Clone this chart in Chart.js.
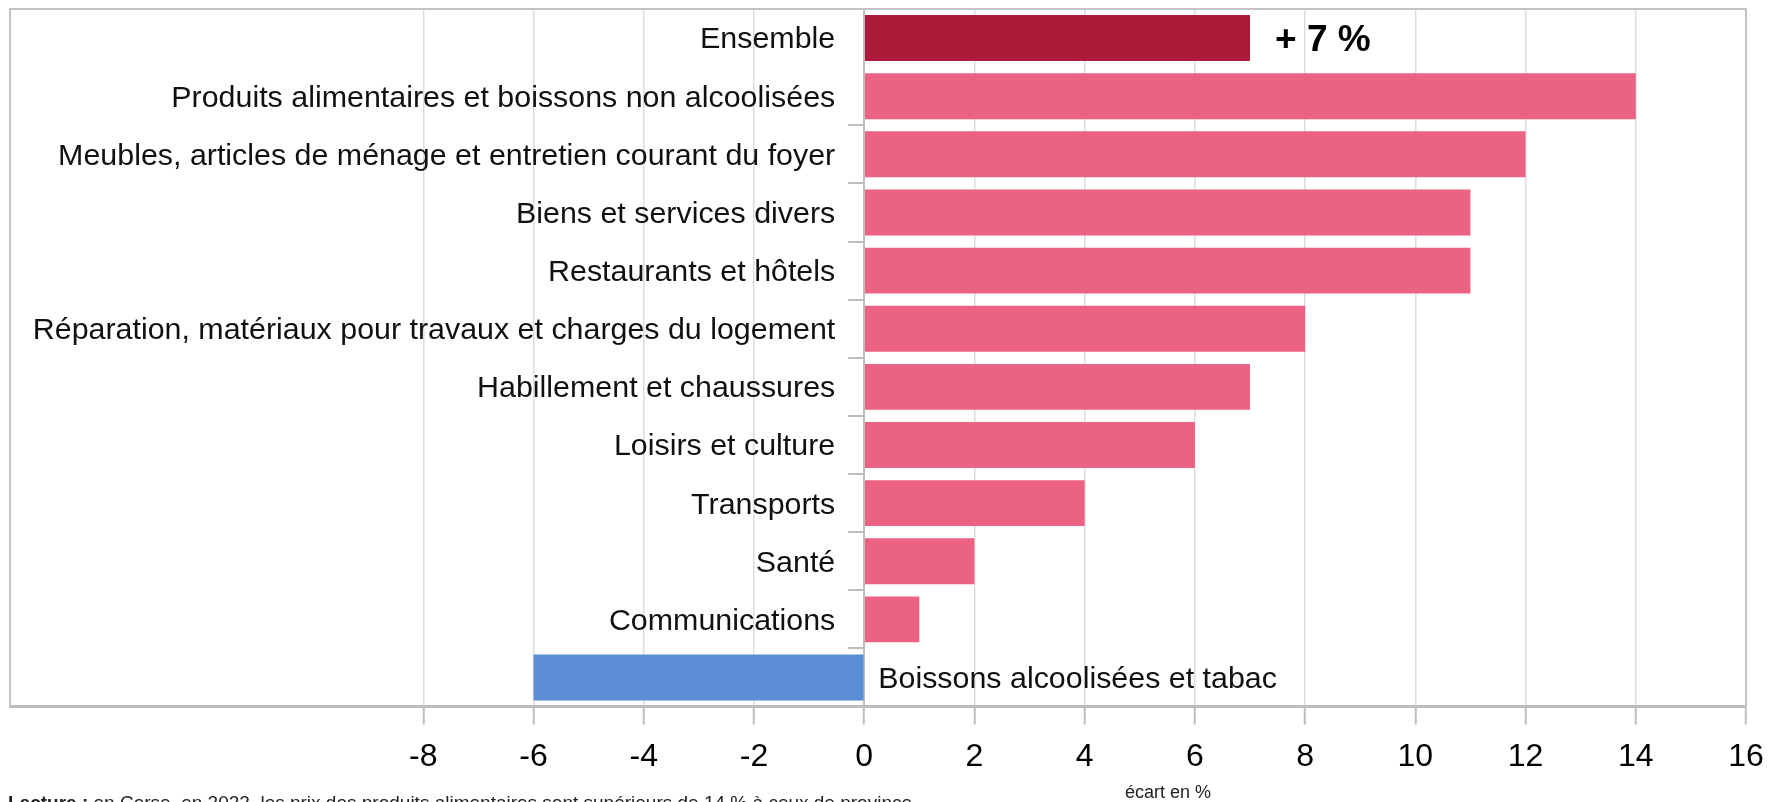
<!DOCTYPE html>
<html>
<head>
<meta charset="utf-8">
<script src="https://cdn.jsdelivr.net/npm/chart.js@4/dist/chart.umd.min.js"></script>
<style>
  html, body { margin: 0; padding: 0; background: #fff; }
  #wrap { width: 1768px; height: 802px; }
</style>
</head>
<body>
<div id="wrap"><canvas id="ecarts" width="1768" height="802"></canvas></div>
<script>
// data
const categories = [
  'Ensemble',
  'Produits alimentaires et boissons non alcoolisées',
  'Meubles, articles de ménage et entretien courant du foyer',
  'Biens et services divers',
  'Restaurants et hôtels',
  'Réparation, matériaux pour travaux et charges du logement',
  'Habillement et chaussures',
  'Loisirs et culture',
  'Transports',
  'Santé',
  'Communications',
  'Boissons alcoolisées et tabac'
];
const ecarts = [7, 14, 12, 11, 11, 8, 7, 6, 4, 2, 1, -6];
const xTicks = [-8, -6, -4, -2, 0, 2, 4, 6, 8, 10, 12, 14, 16];
const ensembleLabel = '+ 7 %';
const axisTitle = 'écart en %';
const noteBold = 'Lecture :';
const noteText = ' en Corse, en 2022, les prix des produits alimentaires sont supérieurs de 14 % à ceux de province.';

const FONT = '"Liberation Sans", Arial, sans-serif';

// colours: Ensemble dark red, positives pink, negatives blue
const barColors = ecarts.map((v, i) => i === 0 ? '#ad1a3a' : (v < 0 ? '#5b8ed6' : '#ec6283'));

//frame, category labels and notes
const labelsPlugin = {
  id: 'labels',
  beforeDatasetsDraw: (chart) => {
    const ctx = chart.ctx;
    const a = chart.chartArea;
    ctx.save();
    ctx.strokeStyle = '#c3c3c3';
    ctx.lineWidth = 2;
    ctx.beginPath();
    ctx.moveTo(a.left, a.bottom);
    ctx.lineTo(a.left, a.top);
    ctx.lineTo(a.right, a.top);
    ctx.lineTo(a.right, a.bottom);
    ctx.stroke();
    ctx.restore();
  },
  afterDatasetsDraw: (chart) => {
    const ctx = chart.ctx;
    const xs = chart.scales.x;
    const ys = chart.scales.y;
    const x0 = xs.getPixelForValue(0);
    ctx.save();
    ctx.fillStyle = '#111';
    ctx.textBaseline = 'middle';
    ctx.font = '30.4px ' + FONT;
    categories.forEach((c, i) => {
      const y = ys.getPixelForValue(i) + 2;
      if (ecarts[i] >= 0) {
        ctx.textAlign = 'right';
        ctx.fillText(c, x0 - 29, y);
      } else {
        ctx.textAlign = 'left';
        ctx.fillText(c, x0 + 14, y);
      }
    });
    // value next to Ensemble
    ctx.font = 'bold 37px ' + FONT;
    ctx.textAlign = 'left';
    ctx.fillStyle = '#000';
    ctx.fillText(ensembleLabel, xs.getPixelForValue(ecarts[0]) + 25, ys.getPixelForValue(0) + 3);
    // axis title and reading note
    ctx.font = '18px ' + FONT;
    ctx.textAlign = 'center';
    ctx.fillStyle = '#222';
    ctx.fillText(axisTitle, 1168, 793);
    ctx.textAlign = 'left';
    ctx.textBaseline = 'top';
    ctx.font = 'bold 19px ' + FONT;
    ctx.fillText(noteBold, 8, 794);
    const w = ctx.measureText(noteBold).width;
    ctx.font = '19px ' + FONT;
    ctx.fillText(noteText, 8 + w, 794);
    ctx.restore();
  }
};

const ctx = document.getElementById('ecarts').getContext('2d');
const chart = new Chart(ctx, {
  type: 'bar',
  data: {
    labels: categories,
    datasets: [{
      data: ecarts,
      backgroundColor: barColors,
      borderWidth: 0,
      categoryPercentage: 1,
      barPercentage: 0.79
    }]
  },
  options: {
    indexAxis: 'y',
    responsive: false,
    animation: false,
    devicePixelRatio: 1,
    layout: { padding: { left: 10, right: 22, top: 9, bottom: 13 } },
    plugins: {
      legend: { display: false },
      tooltip: { enabled: false }
    },
    scales: {
      x: {
        min: -15.5,
        max: 16,
        afterBuildTicks: (scale) => {
          scale.ticks = xTicks.map(v => ({ value: v }));
        },
        afterFit: (scale) => {
          scale.paddingLeft = 0;
          scale.paddingRight = 0;
        },
        grid: {
          color: '#dcdcdc',
          lineWidth: 1.5,
          tickColor: '#bdbdbd',
          tickWidth: 2,
          tickLength: 18
        },
        border: { color: '#bdbdbd', width: 3 },
        ticks: {
          padding: 13,
          color: '#000',
          font: { family: FONT, size: 32 }
        }
      },
      y: {
        position: { x: 0 },
        ticks: { display: false },
        grid: {
          drawOnChartArea: false,
          tickLength: 15,
          lineWidth: 2,
          color: (c) => (c.index <= 1 || c.index >= categories.length) ? 'rgba(0,0,0,0)' : '#bdbdbd'
        },
        border: { color: '#bdbdbd', width: 2 }
      }
    }
  },
  plugins: [labelsPlugin]
});
</script>
</body>
</html>
